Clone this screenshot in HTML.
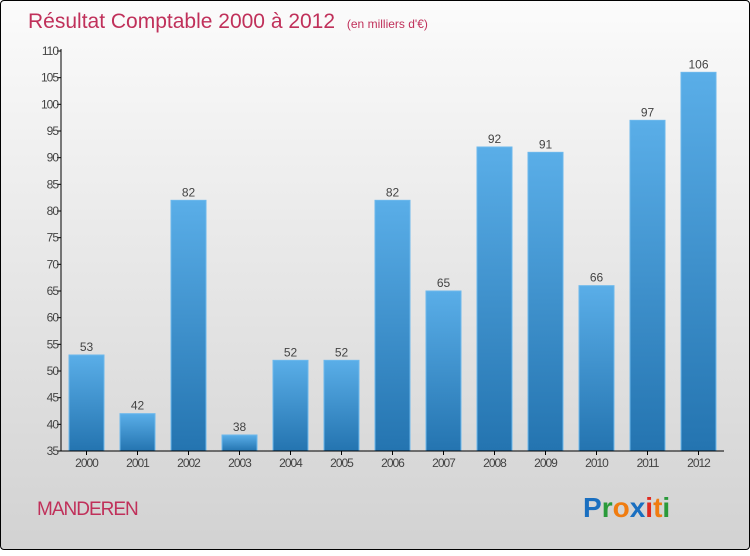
<!DOCTYPE html>
<html><head><meta charset="utf-8"><style>
body{margin:0;width:750px;height:550px;overflow:hidden;font-family:"Liberation Sans",sans-serif}
#wrap{position:absolute;left:0;top:0;width:748px;height:548px;border:1px solid #000;border-radius:4px;background:linear-gradient(#fbfbfb,#d2d2d2)}
</style></head><body>
<div id="wrap">
<svg width="750" height="550">
<defs><linearGradient id="bg" x1="0" y1="0" x2="0" y2="1"><stop offset="0" stop-color="#5aaee8"/><stop offset="1" stop-color="#2474b0"/></linearGradient></defs>
<text x="27" y="27" font-size="21" fill="#c0305a">Résultat Comptable 2000 à 2012 <tspan font-size="12" dx="6">(en milliers d'€)</tspan></text>
<g id="yaxis"></g>
<g id="bars"></g>
<g id="xaxis"></g>
<text x="36" y="514" font-size="19" fill="#c0305a" letter-spacing="-1">MANDEREN</text>
<text x="582" y="516" font-size="28" font-weight="bold"><tspan fill="#1a6fc0">P</tspan><tspan fill="#2a9a3a">r</tspan><tspan fill="#f07c10">o</tspan><tspan fill="#1a6fc0">x</tspan><tspan fill="#e02a20">i</tspan><tspan fill="#f07c10">t</tspan><tspan fill="#2a9a3a">i</tspan></text>
</svg></div>
<script>
const categories=["2000","2001","2002","2003","2004","2005","2006","2007","2008","2009","2010","2011","2012"];
const values=[53,42,82,38,52,52,82,65,92,91,66,97,106];
const yTicks=[35,40,45,50,55,60,65,70,75,80,85,90,95,100,105,110];
const NS="http://www.w3.org/2000/svg";
const x0=60,band=51,yMin=35,yMax=110,yTop=50,yBot=450;
const y=v=>yBot-(v-yMin)/(yMax-yMin)*(yBot-yTop);
function mk(t,a,p){const e=document.createElementNS(NS,t);for(const k in a)e.setAttribute(k,a[k]);p.appendChild(e);return e;}
const ya=document.getElementById('yaxis'),xa=document.getElementById('xaxis'),bs=document.getElementById('bars');
mk('line',{x1:x0,y1:yTop-2,x2:x0,y2:yBot,stroke:'#000'},ya);
mk('line',{x1:x0,y1:yBot,x2:x0+band*categories.length,y2:yBot,stroke:'#000'},xa);
yTicks.forEach(t=>{
 const l=mk('line',{x1:x0-4,y1:y(t),x2:x0,y2:y(t),stroke:'#000'},ya);
 
 
 const tx=mk('text',{x:x0-3,y:y(t)+4,'font-size':12,'text-anchor':'end',fill:'#444','letter-spacing':'-1'},ya);
 tx.textContent=t;
 
 
});
categories.forEach((c,i)=>{
 const cx=x0+band*i+band/2;
 const r=mk('rect',{x:cx-17.5,y:y(values[i]),width:35,height:yBot-y(values[i]),fill:'url(#bg)',stroke:'#6cb8ec','stroke-width':1},bs);
 
 
 const vl=mk('text',{x:cx,y:y(values[i])-4,'font-size':12,'text-anchor':'middle',fill:'#444'},bs);
 vl.textContent=values[i];
 
 
 mk('line',{x1:cx,y1:yBot,x2:cx,y2:yBot+4,stroke:'#000'},xa);
 const xl=mk('text',{x:cx,y:yBot+16,'font-size':12,'text-anchor':'middle',fill:'#444','letter-spacing':'-1'},xa);
 xl.textContent=c;
 
 
});
</script>
</body></html>
